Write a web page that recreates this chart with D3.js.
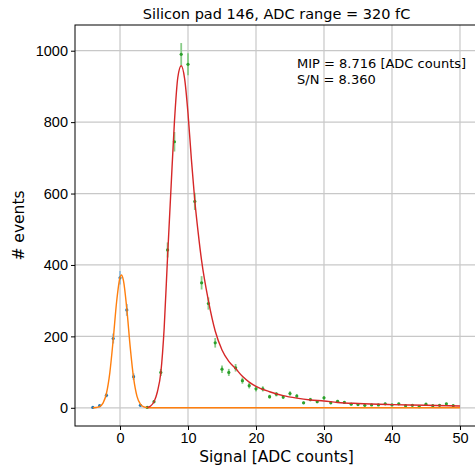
<!DOCTYPE html>
<html>
<head>
<meta charset="utf-8">
<script src="https://cdn.jsdelivr.net/npm/d3@7"></script>
<style>
  body { margin: 0; background: #fff; }
  svg { font-family: 'DejaVu Sans', sans-serif; }
  .tick text { font-size: 14.5px; fill: #000; }
  .grid line { stroke: #c8c8c8; stroke-width: 1.2; }
</style>
</head>
<body>
<svg id="chart" width="475" height="468"></svg>
<script>
// Pedestal histogram (blue) and signal histogram (green), counts per ADC bin
const pedestalBins = [-4, -3, -2, -1, 0, 1, 2, 3];
const pedestalCounts = [1, 6, 35, 194, 364, 274, 87, 7];

const signalBins = [4, 5, 6, 7, 8, 9, 10, 11, 12, 13, 14, 15, 16, 17, 18, 19, 20, 21, 22, 23, 24, 25, 26,
  27, 28, 29, 30, 31, 32, 33, 34, 35, 36, 37, 38, 39, 40, 41, 42, 43, 44, 45, 46, 47, 48, 49];
const signalCounts = [1, 17, 99, 442, 745, 990, 962, 578, 350, 292, 182, 108, 99, 112, 76, 62, 53, 53, 31,
  38, 30, 40, 33, 14, 23, 17, 28, 14, 18, 15, 10, 9, 7, 8, 8, 11, 8, 11, 6, 7, 3, 10, 6, 7, 11, 6];

// Fitted curves
const pedestalFitX = [-4, -3.5, -3, -2.5, -2, -1.5, -1, -0.5, 0, 0.2, 0.5, 1, 1.5, 2, 2.5, 3, 3.5, 4, 4.5, 5, 50];
const pedestalFitY = [0.1, 0.7, 3.3, 13, 40, 98, 191, 297, 365, 372, 357, 277, 170, 83, 32, 10, 2.4, 0.5, 0, 0, 0];

const signalFitX = [4, 4.5, 5, 5.5, 6, 6.5, 7, 7.5, 8, 8.5, 9, 9.5, 10, 10.5, 11, 11.5, 12, 13, 14, 15, 16,
  17, 18, 19, 20, 22, 24, 26, 28, 30, 32, 35, 40, 45, 50];
const signalFitY = [1, 5, 17, 45, 98, 225, 425, 615, 800, 925, 958, 922, 825, 695, 580, 490, 412, 300, 215,
  162, 130, 110, 88, 72, 60, 45, 34, 27, 22, 19, 15, 12, 9, 7, 5];

const xTicks = [0, 10, 20, 30, 40, 50];
const yTicks = [0, 200, 400, 600, 800, 1000];

const titleText = 'Silicon pad 146, ADC range = 320 fC';
const infoLines = ['MIP = 8.716 [ADC counts]', 'S/N = 8.360'];

const margin = { left: 75, right: 478, top: 25, bottom: 426 };

/**
 * Builds the scales of the plot
 * @returns {*} x and y scales
 */
function generateScales() {
  const x = d3.scaleLinear().domain([-6.62, 52.65]).range([margin.left, margin.right]);
  const y = d3.scaleLinear().domain([-51, 1072]).range([margin.bottom, margin.top]);
  return { x, y };
}

/**
 * Draws grid, axes and frame
 */
function addAxes(svg, x, y) {
  const grid = svg.append('g').attr('class', 'grid');
  grid.selectAll('line.gx')
    .data(xTicks)
    .enter()
    .append('line')
    .attr('x1', (d) => x(d)).attr('x2', (d) => x(d))
    .attr('y1', margin.top).attr('y2', margin.bottom);
  grid.selectAll('line.gy')
    .data(yTicks)
    .enter()
    .append('line')
    .attr('class', 'gy')
    .attr('x1', margin.left).attr('x2', margin.right)
    .attr('y1', (d) => y(d)).attr('y2', (d) => y(d));

  svg.append('g')
    .attr('transform', 'translate(0,' + margin.bottom + ')')
    .call(d3.axisBottom(x).tickValues(xTicks).tickFormat(d3.format('d')).tickSize(4).tickPadding(3))
    .call((g) => g.select('.domain').remove());
  svg.append('g')
    .attr('transform', 'translate(' + margin.left + ',0)')
    .call(d3.axisLeft(y).tickValues(yTicks).tickFormat(d3.format('d')).tickSize(4).tickPadding(3))
    .call((g) => g.select('.domain').remove());

  svg.append('rect')
    .attr('x', margin.left)
    .attr('y', margin.top)
    .attr('width', margin.right - margin.left)
    .attr('height', margin.bottom - margin.top)
    .attr('fill', 'none')
    .attr('stroke', '#000')
    .attr('stroke-width', 1);
}

/**
 * Draws points with sqrt(N) error bars
 */
function addErrorBars(svg, x, y, bins, counts, color, barColor) {
  const data = bins.map((b, i) => ({ b, n: counts[i] }));
  const g = svg.append('g');
  g.selectAll('line')
    .data(data)
    .enter()
    .append('line')
    .attr('x1', (d) => x(d.b)).attr('x2', (d) => x(d.b))
    .attr('y1', (d) => y(d.n - Math.sqrt(d.n)))
    .attr('y2', (d) => y(d.n + Math.sqrt(d.n)))
    .attr('stroke', barColor)
    .attr('stroke-width', 1.8);
  g.selectAll('circle')
    .data(data)
    .enter()
    .append('circle')
    .attr('cx', (d) => x(d.b))
    .attr('cy', (d) => y(d.n))
    .attr('r', 1.6)
    .attr('fill', color);
}

/**
 * Draws a fitted curve from sampled points
 */
function addCurve(svg, x, y, xs, ys, color) {
  const line = d3.line()
    .x((d) => x(d[0]))
    .y((d) => y(d[1]))
    .curve(d3.curveMonotoneX);
  svg.append('path')
    .datum(xs.map((v, i) => [v, ys[i]]))
    .attr('d', line)
    .attr('fill', 'none')
    .attr('stroke', color)
    .attr('stroke-width', 1.4);
}

function drawChart() {
  const svg = d3.select('#chart');
  const { x, y } = generateScales();

  addAxes(svg, x, y);

  addErrorBars(svg, x, y, pedestalBins, pedestalCounts, '#1f77b4', '#8fbbd9');
  addErrorBars(svg, x, y, signalBins, signalCounts, '#2ca02c', '#88cc88');
  addCurve(svg, x, y, pedestalFitX, pedestalFitY, '#ff7f0e');
  addCurve(svg, x, y, signalFitX, signalFitY, '#d62728');

  // Title
  svg.append('text')
    .attr('x', (margin.left + margin.right) / 2)
    .attr('y', 19)
    .attr('text-anchor', 'middle')
    .style('font-size', '14.5px')
    .text(titleText);

  // Fit results
  svg.selectAll('text.info')
    .data(infoLines)
    .enter()
    .append('text')
    .attr('class', 'info')
    .attr('x', 297)
    .attr('y', (d, i) => 68 + i * 16)
    .style('font-size', '13px')
    .text((d) => d);

  // Labels
  svg.append('text')
    .attr('x', (margin.left + margin.right) / 2)
    .attr('y', 462)
    .attr('text-anchor', 'middle')
    .style('font-size', '15.5px')
    .text('Signal [ADC counts]');
  svg.append('text')
    .attr('transform', 'translate(24,' + (margin.top + margin.bottom) / 2 + ') rotate(-90)')
    .attr('text-anchor', 'middle')
    .style('font-size', '15.5px')
    .text('# events');
}

drawChart();
</script>
</body>
</html>
